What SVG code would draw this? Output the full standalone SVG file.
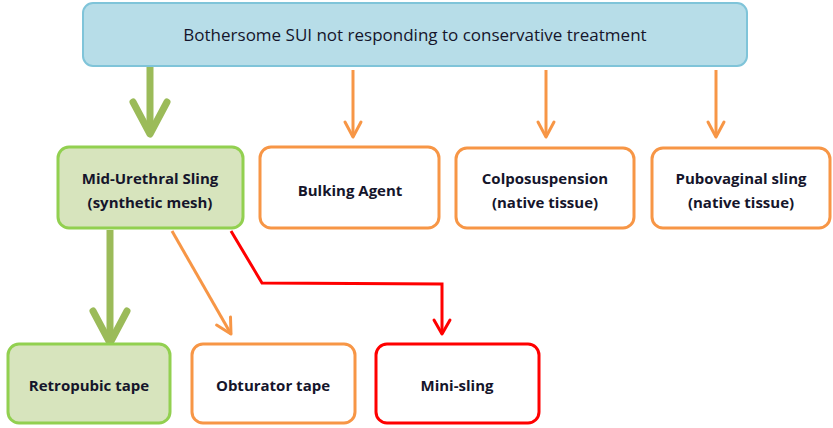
<svg xmlns="http://www.w3.org/2000/svg" width="833" height="428" viewBox="0 0 833 428">
  <style>
    .box { stroke-width: 3; }
    .top { fill: #b7dde8; stroke: #7fc4d9; stroke-width: 2; }
    .green { fill: #d7e4bd; stroke: #92d050; }
    .orange { fill: #ffffff; stroke: #f79646; }
    .red { fill: #ffffff; stroke: #ff0000; }
    text { font-family: "Open Sans", "Liberation Sans", sans-serif; fill: #15152b; text-anchor: middle; }
    .title { font-size: 17px; }
    .lbl { font-size: 15px; font-weight: bold; }
    .c-green { stroke: #9bbb59; stroke-width: 7; fill: none; }
    .c-orange { stroke: #f79646; stroke-width: 3; fill: none; }
    .c-red { stroke: #ff0000; stroke-width: 3; fill: none; stroke-linejoin: miter; }
  </style>
  <defs>
    <marker id="head-green" markerUnits="userSpaceOnUse" viewBox="-40 -24 48 48" refX="0" refY="0" markerWidth="48" markerHeight="48" orient="auto">
      <path d="M-32,-17 L0,0 L-32,17" fill="none" stroke="#9bbb59" stroke-width="7" stroke-linecap="round" stroke-linejoin="round"/>
    </marker>
    <marker id="head-orange" markerUnits="userSpaceOnUse" viewBox="-20 -12 24 24" refX="0" refY="0" markerWidth="24" markerHeight="24" orient="auto">
      <path d="M-15,-8 L0,0 L-15,8" fill="none" stroke="#f79646" stroke-width="3" stroke-linecap="round" stroke-linejoin="round"/>
    </marker>
    <marker id="head-red" markerUnits="userSpaceOnUse" viewBox="-20 -12 24 24" refX="0" refY="0" markerWidth="24" markerHeight="24" orient="auto">
      <path d="M-14,-8 L0,0 L-14,8" fill="none" stroke="#ff0000" stroke-width="3" stroke-linecap="round" stroke-linejoin="round"/>
    </marker>
  </defs>

  <g id="connectors">
    <path class="c-green" d="M150,67 L150,134" marker-end="url(#head-green)"/>
    <path class="c-orange" d="M353,70 L353,137" marker-end="url(#head-orange)"/>
    <path class="c-orange" d="M546,70 L546,137" marker-end="url(#head-orange)"/>
    <path class="c-orange" d="M716,70 L716,137" marker-end="url(#head-orange)"/>
    <path class="c-green" d="M110,230 L110,343" marker-end="url(#head-green)"/>
    <path class="c-orange" d="M172,231 L231,334" marker-end="url(#head-orange)"/>
    <path class="c-red" d="M231,231 L262,283 L442,284 L442,334" marker-end="url(#head-red)"/>
  </g>

  <g id="node-sui">
    <rect class="top" x="83" y="3" width="664" height="63" rx="10"/>
    <text class="title" x="415" y="41">Bothersome SUI not responding to conservative treatment</text>
  </g>

  <g id="node-mus">
    <rect class="box green" x="58" y="147" width="185" height="81" rx="11"/>
    <text class="lbl" x="150" y="184">Mid-Urethral Sling</text>
    <text class="lbl" x="150" y="208">(synthetic mesh)</text>
  </g>

  <g id="node-bulking">
    <rect class="box orange" x="260" y="147" width="179" height="81" rx="11"/>
    <text class="lbl" x="350" y="196">Bulking Agent</text>
  </g>

  <g id="node-colpo">
    <rect class="box orange" x="456" y="148" width="178" height="80" rx="11"/>
    <text class="lbl" x="545" y="184">Colposuspension</text>
    <text class="lbl" x="545" y="208">(native tissue)</text>
  </g>

  <g id="node-pubovaginal">
    <rect class="box orange" x="652" y="148" width="178" height="80" rx="11"/>
    <text class="lbl" x="741" y="184">Pubovaginal sling</text>
    <text class="lbl" x="741" y="208">(native tissue)</text>
  </g>

  <g id="node-retropubic">
    <rect class="box green" x="8" y="344" width="162" height="79" rx="11"/>
    <text class="lbl" x="89" y="391">Retropubic tape</text>
  </g>

  <g id="node-obturator">
    <rect class="box orange" x="192" y="344" width="163" height="79" rx="11"/>
    <text class="lbl" x="273" y="391">Obturator tape</text>
  </g>

  <g id="node-minisling">
    <rect class="box red" x="376" y="344" width="163" height="79" rx="11"/>
    <text class="lbl" x="457" y="391">Mini-sling</text>
  </g>
</svg>
